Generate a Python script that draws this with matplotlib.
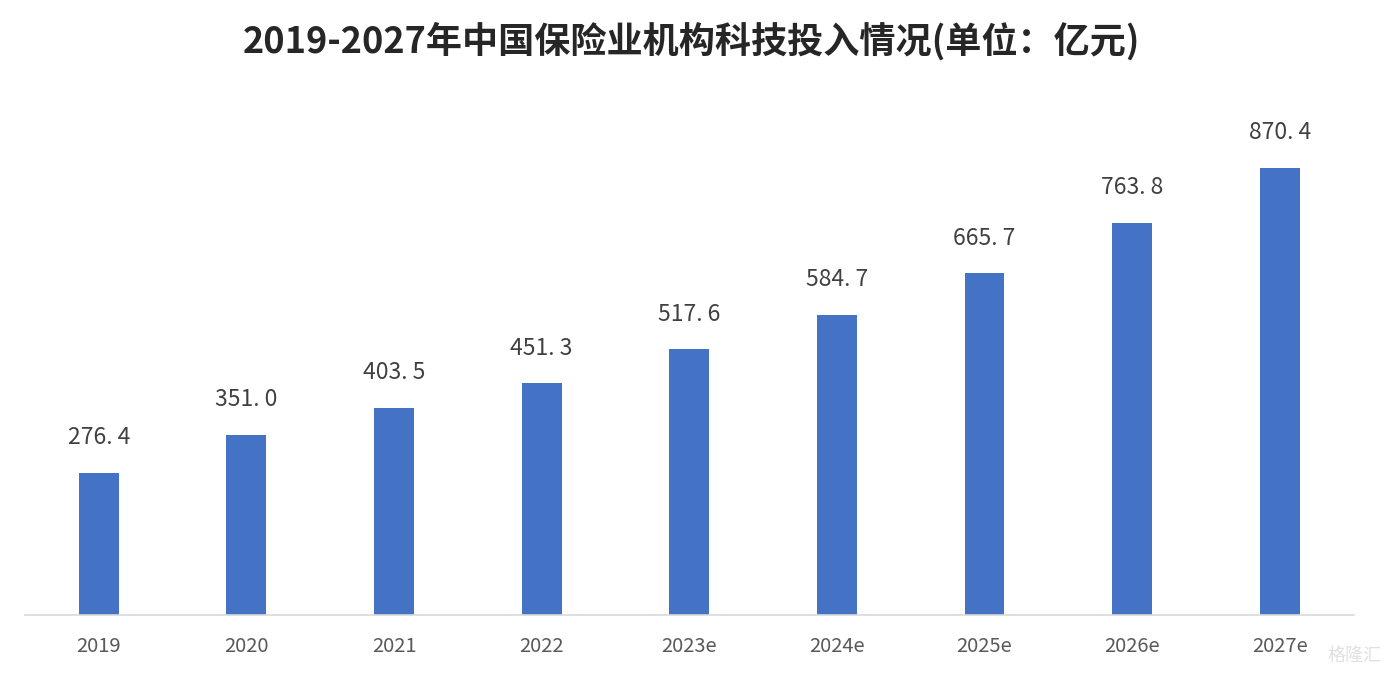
import matplotlib.pyplot as plt

plt.rcParams['font.family'] = ['Noto Sans CJK SC', 'DejaVu Sans']

years = ["2019", "2020", "2021", "2022", "2023e", "2024e", "2025e", "2026e", "2027e"]
values = [276.4, 351.0, 403.5, 451.3, 517.6, 584.7, 665.7, 763.8, 870.4]
value_labels = ["276. 4", "351. 0", "403. 5", "451. 3", "517. 6", "584. 7", "665. 7", "763. 8", "870. 4"]

fig = plt.figure(figsize=(13.84, 6.73), dpi=100)
ax = fig.add_axes([0.018, 0.0862, 0.96, 0.763])

x = range(len(years))
ax.bar(x, values, width=0.27, color="#4472C4", zorder=2)

for i, (v, lab) in enumerate(zip(values, value_labels)):
    ax.annotate(lab, (i, v), xytext=(0, 17), textcoords="offset points",
                ha="center", va="bottom", fontsize=16.5, color="#404040")

ax.set_xlim(-0.5, len(years) - 0.5)
ax.set_ylim(0, 1000)
ax.set_xticks(list(x))
ax.set_xticklabels(years, fontsize=14.5, color="#595959")
ax.tick_params(axis="x", length=0, pad=15)
ax.set_yticks([])
for s in ["top", "left", "right"]:
    ax.spines[s].set_visible(False)
ax.spines["bottom"].set_color("#D9D9D9")
ax.spines["bottom"].set_linewidth(1.2)

fig.text(0.5, 0.938, "2019-2027年中国保险业机构科技投入情况(单位：亿元)",
         ha="center", va="center", fontsize=26, fontweight="bold", color="#262626")

# watermark
fig.text(0.998, 0.025, "格隆汇", ha="right", va="center", fontsize=13,
         color="#DDDDDD", alpha=0.9)

fig.savefig("out.png", dpi=100)
